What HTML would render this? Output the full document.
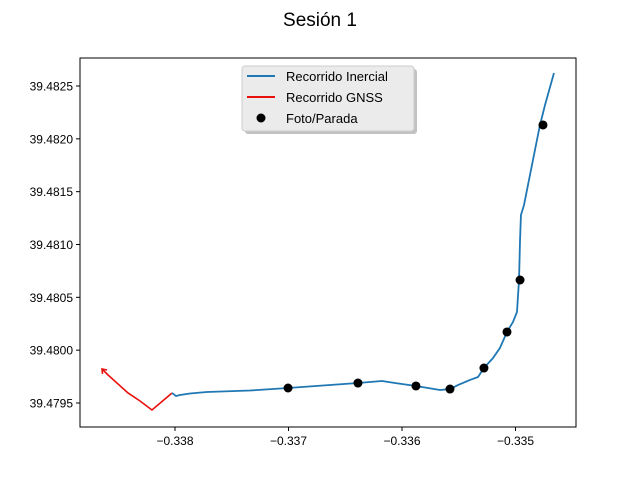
<!DOCTYPE html>
<html><head><meta charset="utf-8"><style>
body{margin:0;background:#fff;}
svg{display:block;font-family:"Liberation Sans","DejaVu Sans",sans-serif;}
</style></head><body>
<svg id="chart" width="640" height="480" viewBox="0 0 640 480">
<rect width="640" height="480" fill="#fff"/>
<text x="320" y="26" text-anchor="middle" font-size="19">Sesión 1</text>
<g id="plot"></g>
<g id="axes"></g>
<g>
<rect x="245" y="69" width="172" height="65" rx="3" fill="#999" opacity="0.6"/>
<rect x="242" y="66" width="172" height="65" rx="3" fill="#ebebeb" stroke="#ccc"/>
<line x1="247" y1="76" x2="275" y2="76" stroke="#1f77b4" stroke-width="2"/>
<text x="286" y="81" font-size="13">Recorrido Inercial</text>
<line x1="247" y1="97" x2="275" y2="97" stroke="#e8100c" stroke-width="2"/>
<text x="286" y="102" font-size="13">Recorrido GNSS</text>
<circle cx="261" cy="118" r="4.5" fill="#000"/>
<text x="286" y="123" font-size="13">Foto/Parada</text>
</g>
</svg>
<script>
const inercialX=[-0.338026,-0.337991,-0.337956,-0.337868,-0.337718,-0.337339,-0.337004,-0.336388,-0.336176,-0.336062,-0.335877,-0.335665,-0.335577,-0.335507,-0.335401,-0.335330,-0.335278,-0.335198,-0.335137,-0.335075,-0.335022,-0.334987,-0.334969,-0.334960,-0.334952,-0.334925,-0.334890,-0.334846,-0.334811,-0.334784,-0.334740,-0.334661];
const inercialY=[39.479595,39.479566,39.479576,39.479590,39.479604,39.479618,39.479642,39.479689,39.479708,39.479689,39.479661,39.479623,39.479632,39.479670,39.479718,39.479746,39.479831,39.479926,39.480021,39.480172,39.480267,39.480361,39.480664,39.481043,39.481279,39.481374,39.481563,39.481800,39.481989,39.482131,39.482320,39.482623];
const gnssX=[-0.338026,-0.338203,-0.338308,-0.338414,-0.338590,-0.338643];
const gnssY=[39.479595,39.479434,39.479519,39.479595,39.479765,39.479822];
const fotoX=[-0.337004,-0.336388,-0.335877,-0.335577,-0.335278,-0.335075,-0.334960,-0.334758];
const fotoY=[39.479642,39.479689,39.479661,39.479632,39.479831,39.480172,39.480664,39.482131];
const xTicks=[-0.338,-0.337,-0.336,-0.335];
const xTickLabels=["−0.338","−0.337","−0.336","−0.335"];
const yTicks=[39.4795,39.48,39.4805,39.481,39.4815,39.482,39.4825];
const yTickLabels=["39.4795","39.4800","39.4805","39.4810","39.4815","39.4820","39.4825"];
const NS="http://www.w3.org/2000/svg";
const L=80,R=576,T=58,B=427;
function sx(v){return 175+(v+0.338)*113500;}
function sy(v){return 403-(v-39.4795)*105667;}
function mk(tag,attrs,parent){const e=document.createElementNS(NS,tag);for(const k in attrs)e.setAttribute(k,attrs[k]);parent.appendChild(e);return e;}
const plot=document.getElementById('plot'),axes=document.getElementById('axes');
const gp=mk('polyline',{points:gnssX.map((x,i)=>sx(x)+','+sy(gnssY[i])).join(' '),fill:'none',stroke:'#e8100c','stroke-width':1.6},plot);


const tipX=sx(gnssX[gnssX.length-1]),tipY=sy(gnssY[gnssY.length-1]);
const ah=mk('polyline',{points:(tipX+5)+','+(tipY+1)+' '+tipX+','+tipY+' '+(tipX+0.5)+','+(tipY+5),fill:'none',stroke:'#e8100c','stroke-width':1.6},plot);


const ip=mk('polyline',{points:inercialX.map((x,i)=>sx(x)+','+sy(inercialY[i])).join(' '),fill:'none',stroke:'#1f77b4','stroke-width':1.8,'stroke-linejoin':'round'},plot);


fotoX.forEach((x,i)=>{const c=mk('circle',{cx:sx(x),cy:sy(fotoY[i]),r:4.5,fill:'#000'},plot);

});
const fr=mk('rect',{x:L,y:T,width:R-L,height:B-T,fill:'none',stroke:'#000','stroke-width':1},axes);


xTicks.forEach((v,i)=>{const x=sx(v);mk('line',{x1:x,y1:B,x2:x,y2:B+4,stroke:'#000'},axes);
const t=mk('text',{x:x,y:B+18,'text-anchor':'middle','font-size':12},axes);t.textContent=xTickLabels[i];

});
yTicks.forEach((v,i)=>{const y=sy(v);mk('line',{x1:L-4,y1:y,x2:L,y2:y,stroke:'#000'},axes);
const t=mk('text',{x:L-7,y:y+4.5,'text-anchor':'end','font-size':12},axes);t.textContent=yTickLabels[i];

});
</script>
</body></html>
